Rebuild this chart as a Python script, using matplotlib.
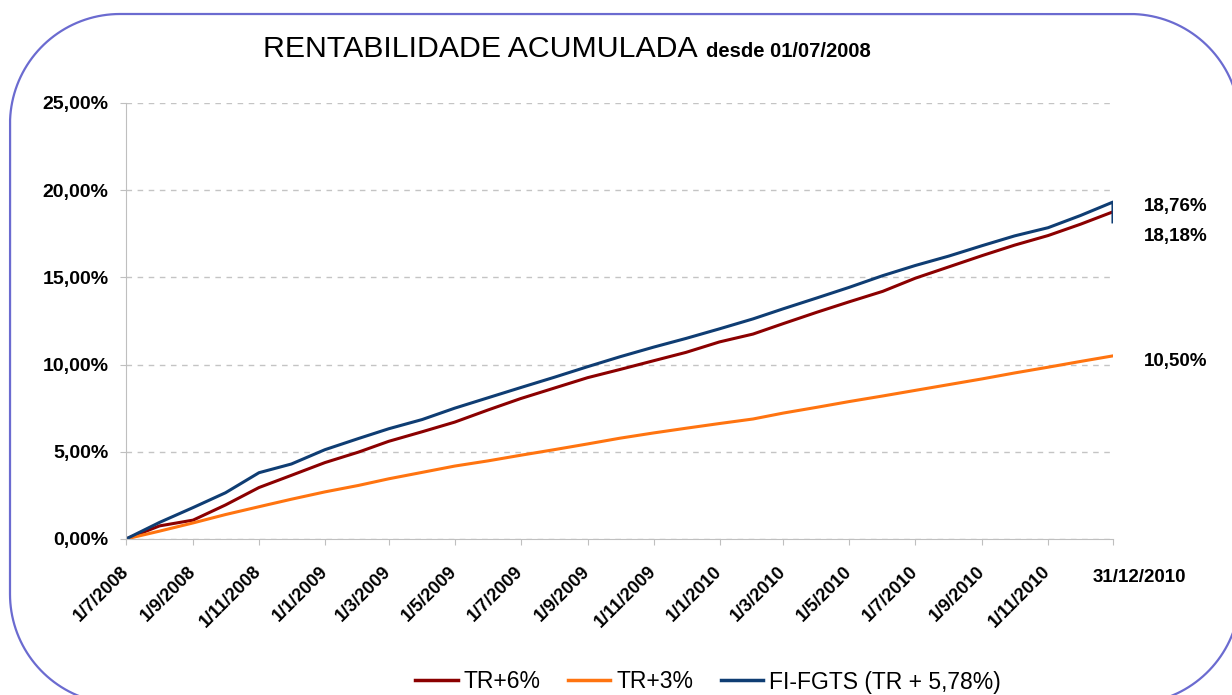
import matplotlib
matplotlib.use("Agg")
import matplotlib.pyplot as plt
import matplotlib.dates as mdates
from matplotlib.lines import Line2D
from matplotlib.ticker import FuncFormatter
from matplotlib.transforms import Affine2D, ScaledTranslation
import numpy as np
import pandas as pd

# Datas: primeiro dia de cada mes + fechamento em 31/12/2010
datas = pd.date_range("2008-07-01", "2010-12-01", freq="MS").tolist() + [pd.Timestamp("2010-12-31")]

# Rentabilidade acumulada (%)
tr6 = [0.00, 0.75, 1.08, 1.95, 2.95, 3.65, 4.38, 4.98, 5.60, 6.15, 6.70, 7.40,
       8.05, 8.65, 9.25, 9.72, 10.22, 10.70, 11.30, 11.75, 12.35, 13.00, 13.60,
       14.20, 14.95, 15.60, 16.25, 16.85, 17.40, 18.05, 18.76]
tr3 = [0.00, 0.45, 0.92, 1.40, 1.85, 2.28, 2.70, 3.07, 3.45, 3.82, 4.18, 4.48,
       4.80, 5.12, 5.45, 5.78, 6.08, 6.35, 6.62, 6.88, 7.22, 7.55, 7.88,
       8.20, 8.52, 8.85, 9.18, 9.52, 9.85, 10.18, 10.50]
fgts = [0.00, 0.95, 1.80, 2.65, 3.80, 4.30, 5.12, 5.76, 6.32, 6.85, 7.50, 8.10,
        8.68, 9.27, 9.88, 10.45, 11.00, 11.50, 12.05, 12.62, 13.20, 13.82, 14.43,
        15.10, 15.68, 16.22, 16.82, 17.38, 17.85, 18.55, 19.32]
fgts_final = 18.18  # queda no ultimo dia

series = ["TR+6%", "TR+3%", "FI-FGTS (TR + 5,78%)"]
cores = ["#8B0000", "#FF7410", "#0F3D73"]

plt.rcParams['font.family'] = ['Liberation Sans', 'DejaVu Sans']

fig = plt.figure(figsize=(12.32, 6.95), dpi=100)
ax = fig.add_axes([0.1023, 0.2245, 0.8011, 0.6273])


def arco(cx, cy, r, a0, a1, n=40):
    t = np.radians(np.linspace(a0, a1, n))
    return cx + r * np.cos(t), cy + r * np.sin(t)


# moldura arredondada (pixels, y para cima); lado direito fica fora da imagem
r = 110
cantos = [(1130, 101, 0, -90), (120, 101, -90, -180), (120, 571, 180, 90), (1130, 571, 90, 0)]
mx, my = [], []
for cx, cy, a0, a1 in cantos:
    xs, ys = arco(cx, cy, r, a0, a1)
    mx.extend(xs)
    my.extend(ys)
moldura = Line2D(mx, my, color="#6B6BD0", linewidth=1.6,
                 transform=Affine2D().scale(1.0 / fig.dpi) + fig.dpi_scale_trans)
fig.add_artist(moldura)

ax.plot(datas, tr6, color=cores[0], linewidth=2.2)
ax.plot(datas, tr3, color=cores[1], linewidth=2.2)
ax.plot(datas + [datas[-1]], fgts + [fgts_final], color=cores[2], linewidth=2.2)

ax.set_xlim(datas[0], datas[-1])
ax.set_ylim(0, 25)

# eixo Y
ax.set_yticks([0, 5, 10, 15, 20, 25])
ax.yaxis.set_major_formatter(FuncFormatter(lambda v, p: f"{v:.2f}".replace(".", ",") + "%"))
ax.grid(axis='y', color='#C4C4C4', linestyle=(0, (4, 4)), linewidth=1)
ax.set_axisbelow(True)

# eixo X: a cada 2 meses + fechamento
ticks_x = datas[0:30:2] + [datas[-1]]
ax.set_xticks(ticks_x)
rotulos = [f"{d.day}/{d.month}/{d.year}" for d in datas[0:30:2]] + [""]
ax.set_xticklabels(rotulos, rotation=45, ha='right', va='center', rotation_mode='anchor',
                   fontsize=13, fontweight='bold')
desloc = ScaledTranslation(-23 / 100, 0, fig.dpi_scale_trans)
for lbl in ax.get_xticklabels():
    lbl.set_transform(lbl.get_transform() + desloc)
ax.text(mdates.date2num(datas[-1]) + 24, -2.2, "31/12/2010", ha='center', va='center',
        fontsize=13.5, fontweight='bold')

for s in ['top', 'right']:
    ax.spines[s].set_visible(False)
for s in ['left', 'bottom']:
    ax.spines[s].set_color('#BFBFBF')
ax.tick_params(axis='both', colors='#BFBFBF', length=4.5, labelcolor='black')
ax.tick_params(axis='y', pad=8, labelsize=14)
for t in ax.get_yticklabels():
    t.set_fontweight('bold')
ax.tick_params(axis='x', pad=17)

# valores finais
finais = [(tr6[-1], 3.6), (fgts_final, -10.8), (tr3[-1], -4.3)]
for valor, dy in finais:
    ax.annotate(f"{valor:.2f}".replace(".", ",") + "%", xy=(datas[-1], valor),
                xytext=(22, dy), textcoords='offset points', va='center', ha='left',
                fontsize=13.5, fontweight='bold', annotation_clip=False)

# titulo
fig.text(263 / 1232, 1 - 57 / 695, "RENTABILIDADE ACUMULADA", fontsize=21.8,
         ha='left', va='baseline')
fig.text(706 / 1232, 1 - 57 / 695, "desde 01/07/2008", fontsize=14.5,
         fontweight='bold', ha='left', va='baseline')

# legenda
handles = [Line2D([0], [0], color=c, linewidth=2.5) for c in cores]
fig.legend(handles, series, loc='center', bbox_to_anchor=(0.5747, 1 - 682 / 695),
           ncol=3, frameon=False, fontsize=16.5, handlelength=1.85, columnspacing=1.2,
           handletextpad=0.25)

fig.savefig("out.png", dpi=100, facecolor='white')
